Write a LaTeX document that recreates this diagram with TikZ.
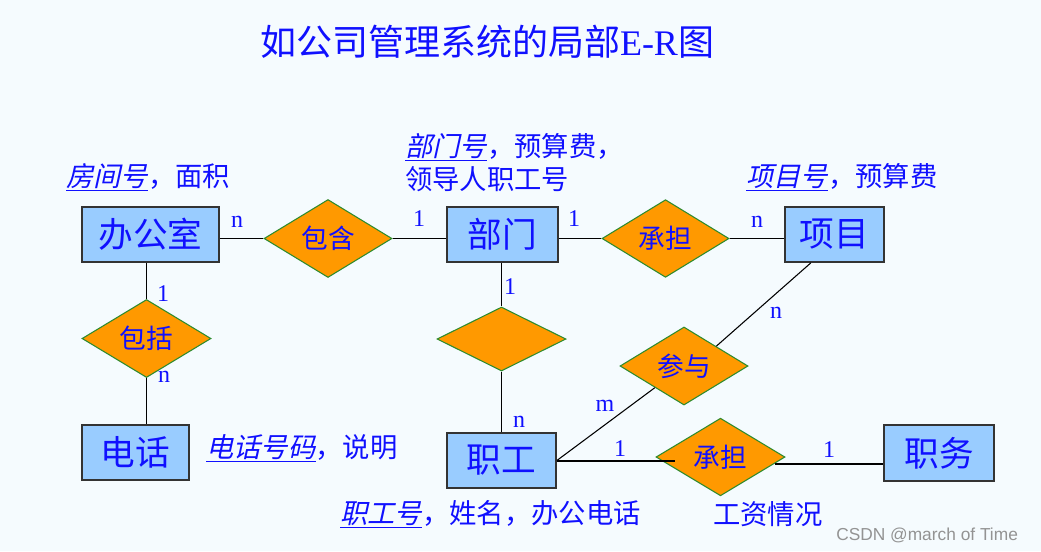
\documentclass[tikz,border=0pt]{standalone}
\usepackage{fontspec}
\setmainfont{Liberation Serif}
\newfontfamily\cjk{Noto Sans CJK SC}
\newfontfamily\cjkit{Noto Sans CJK SC}[FakeSlant=0.22]
\newfontfamily\wmfont{Liberation Sans}
\usetikzlibrary{shapes.geometric,calc}
\definecolor{entfill}{HTML}{99CCFF}
\definecolor{entline}{HTML}{333333}
\definecolor{relfill}{HTML}{FF9900}
\definecolor{relline}{HTML}{2E8B2E}
\definecolor{txtblue}{HTML}{1010FF}
\definecolor{bgcol}{RGB}{245,251,254}
\newcommand{\ul}[1]{\underline{\cjkit #1}}
\tikzset{
  entity/.style={draw=entline, line width=1.3pt, fill=entfill, text=txtblue, inner sep=0pt,
    font=\cjk\fontsize{26}{26}\selectfont},
  rel/.style={diamond, draw=relline, line width=0.8pt, fill=relfill, text=txtblue, inner sep=0pt,
    font=\cjk\fontsize{20}{20}\selectfont},
  card/.style={text=txtblue, inner sep=0pt, font=\fontsize{18}{18}\selectfont},
  attr/.style={text=txtblue, inner sep=0pt, anchor=west, font=\cjk\fontsize{20.5}{20.5}\selectfont},
  conn/.style={draw=black, line width=0.8pt}
}
\begin{document}
\begin{tikzpicture}[x=0.75pt,y=-0.75pt]
\useasboundingbox (0,0) rectangle (1041,551);
\fill[bgcol] (0,0) rectangle (1041,551);

% title
\node[text=txtblue, inner sep=0pt, font=\cjk\fontsize{27}{27}\selectfont] (title) at (487,42)
  {如公司管理系统的局部{\rmfamily E-R}图};

% entities
\node[entity, minimum width=137*0.75pt, minimum height=55*0.75pt] (bgs) at (150.5,234.5) {办公室};
\node[entity, minimum width=111*0.75pt, minimum height=55*0.75pt] (bm) at (502.5,234.5) {部门};
\node[entity, minimum width=99*0.75pt, minimum height=55*0.75pt] (xm) at (834.5,234.5) {项目};
\node[entity, minimum width=107*0.75pt, minimum height=55*0.75pt] (dh) at (135.5,452.5) {电话};
\node[entity, minimum width=109*0.75pt, minimum height=55*0.75pt] (zg) at (501.5,460.5) {职工};
\node[entity, minimum width=110*0.75pt, minimum height=56*0.75pt] (zw) at (939,453) {职务};

% relationships
\node[rel, minimum width=128*0.75pt, minimum height=63*0.75pt] (bh) at (328,238.5) {包含};
\node[rel, minimum width=127*0.75pt, minimum height=63*0.75pt] (cd1) at (665.5,238.5) {承担};
\node[rel, minimum width=129*0.75pt, minimum height=63*0.75pt] (bk) at (146.5,338.5) {包括};
\node[rel, minimum width=129*0.75pt, minimum height=64*0.75pt] (em) at (501.5,339) {};
\node[rel, minimum width=128*0.75pt, minimum height=64*0.75pt] (cy) at (684,366) {参与};
\node[rel, minimum width=129*0.75pt, minimum height=64*0.75pt] (cd2) at (720.5,457) {承担};

% connectors
\coordinate (xmb) at ($(xm.south west)!0.265!(xm.south east)$);
\coordinate (c2l) at (675,461);
\coordinate (c2r) at (775,464);
\draw[conn] (bgs.east |- bh.west) -- (bh.west);
\draw[conn] (bh.east) -- (bm.west |- bh.east);
\draw[conn] (bm.east |- cd1.west) -- (cd1.west);
\draw[conn] (cd1.east) -- (xm.west |- cd1.east);
\draw[conn] (bgs.south -| bk.north) -- (bk.north);
\draw[conn] (bk.south) -- (dh.north -| bk.south);
\draw[conn] (bm.south -| em.north) -- (em.north);
\draw[conn] (em.south) -- (zg.north -| em.south);
\draw[conn] (xmb) -- (cy.north east);
\draw[conn] (zg.east) -- (cy);
\draw[conn] (zg.east |- c2l) -- (c2l);
\draw[conn] (c2r) -- (zw.west |- c2r);

% cardinalities
\node[card] (k1) at (237,222) {n};
\node[card] (k2) at (419,219) {1};
\node[card] (k3) at (574,219) {1};
\node[card] (k4) at (757,222) {n};
\node[card] (k5) at (163,294) {1};
\node[card] (k6) at (164,377) {n};
\node[card] (k7) at (510,287) {1};
\node[card] (k8) at (519,422) {n};
\node[card] (k9) at (776,313) {n};
\node[card] (k10) at (605,406) {m};
\node[card] (k11) at (620,449) {1};
\node[card] (k12) at (829,450) {1};

% attributes
\node[attr] (a1) at (66,177) {\ul{房间号}，面积};
\node[attr] (a2) at (405,147) {\ul{部门号}，预算费，};
\node[attr] (a3) at (405,179) {领导人职工号};
\node[attr] (a4) at (746,177) {\ul{项目号}，预算费};
\node[attr] (a5) at (206,448) {\ul{电话号码}，说明};
\node[attr] (a6) at (340,514) {\ul{职工号}，姓名，办公电话};
\node[attr] (a7) at (713,514) {工资情况};

% watermark
\node[anchor=west, inner sep=0pt, text=gray!85, font=\wmfont\fontsize{13}{13}\selectfont] (wm) at (836,535) {CSDN @march of Time};
\end{tikzpicture}
\end{document}
